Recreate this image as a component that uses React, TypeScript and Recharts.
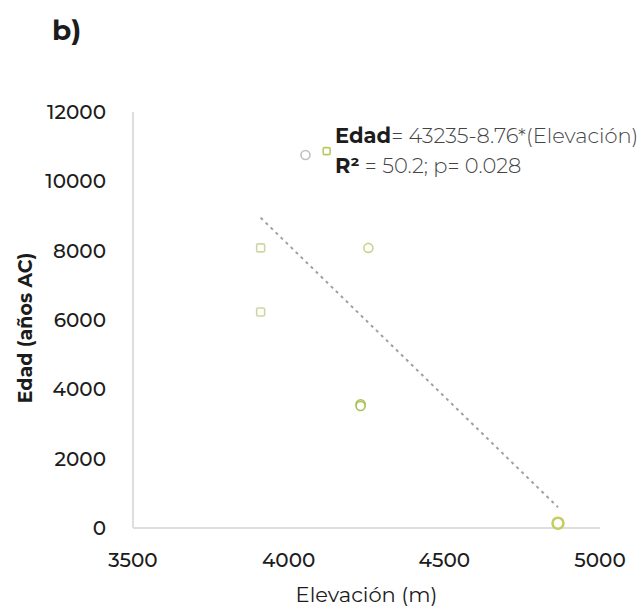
import { ScatterChart, Scatter, XAxis, YAxis, ZAxis } from 'recharts'

// Elevación (m) / Edad (años AC)
const squareElev = [3910, 3910]
const squareAge = [8080, 6230]
const greyElev = [4054]
const greyAge = [10760]
const smallGreenElev = [4122]
const smallGreenAge = [10870]
const circleElev = [4256]
const circleAge = [8080]
const doubleElev = [4231, 4231]
const doubleAge = [3570, 3520]
const lowElev = [4865]
const lowAge = [140]
const trendElev = [3910, 4865]
const trendAge = [8950, 600]

const xTicks = [3500, 4000, 4500, 5000]
const yTicks = [0, 2000, 4000, 6000, 8000, 10000, 12000]

const pts = (xs: number[], ys: number[]) => xs.map((x, i) => ({ x, y: ys[i] }))

const FONT = "Montserrat, 'DejaVu Sans', sans-serif"

const square = (color: string, s: number) => (p: any) => (
  <rect x={p.cx - s / 2} y={p.cy - s / 2} width={s} height={s} rx={1.5} fill="#fff" stroke={color} strokeWidth={1.6} />
)
const circle = (color: string, r: number, sw = 1.6) => (p: any) => (
  <circle cx={p.cx} cy={p.cy} r={r} fill="#fff" stroke={color} strokeWidth={sw} />
)

const YLabel = () => (
  <text
    x={25}
    y={328}
    transform="rotate(-90 25 328)"
    textAnchor="middle"
    dominantBaseline="central"
    fontFamily={FONT}
    fontSize={19}
    fontWeight={700}
    fill="#1c1c1c"
  >
    Edad (años AC)
  </text>
)

export default function App() {
  return (
    <div style={{ position: 'absolute', left: 0, top: 0, width: 644, height: 610, background: '#fff' }}>
      <ScatterChart width={644} height={610} margin={{ top: 112, right: 44, bottom: 0, left: 0 }}>
        <XAxis
          type="number"
          dataKey="x"
          domain={[3500, 5000]}
          ticks={xTicks}
          tickSize={0}
          tickMargin={25}
          axisLine={{ stroke: '#dedede', strokeWidth: 2 }}
          tick={{ fill: '#1c1c1c', fontSize: 20, fontFamily: FONT, fontWeight: 500 }}
          height={82}
          label={{ value: 'Elevación (m)', position: 'insideBottom', offset: 8, fill: '#1c1c1c', fontSize: 21, fontFamily: FONT }}
        />
        <YAxis
          type="number"
          dataKey="y"
          domain={[0, 12000]}
          ticks={yTicks}
          tickSize={0}
          tickMargin={27}
          width={133}
          axisLine={{ stroke: '#dedede', strokeWidth: 2 }}
          tick={{ fill: '#1c1c1c', fontSize: 20, fontFamily: FONT, fontWeight: 500 }}
          label={{ content: () => <YLabel /> }}
        />
        <ZAxis range={[60, 60]} />
        <Scatter
          data={pts(trendElev, trendAge)}
          line={{ stroke: '#a0a0a0', strokeWidth: 2, strokeDasharray: '3 4' }}
          shape={() => <g />}
          isAnimationActive={false}
        />
        <Scatter data={pts(squareElev, squareAge)} shape={square('#cfd6a2', 8)} isAnimationActive={false} />
        <Scatter data={pts(greyElev, greyAge)} shape={circle('#c0c0c0', 4.5)} isAnimationActive={false} />
        <Scatter data={pts(smallGreenElev, smallGreenAge)} shape={square('#bac85e', 7)} isAnimationActive={false} />
        <Scatter data={pts(circleElev, circleAge)} shape={circle('#cbd387', 4.5)} isAnimationActive={false} />
        <Scatter data={pts(doubleElev, doubleAge)} shape={circle('#abc053', 4.5)} isAnimationActive={false} />
        <Scatter data={pts(lowElev, lowAge)} shape={circle('#c3cd62', 5.5, 2.5)} isAnimationActive={false} />
      </ScatterChart>
      <svg width={644} height={610} style={{ position: 'absolute', left: 0, top: 0, pointerEvents: 'none' }}>
        <text x={52} y={40} fontFamily={FONT} fontSize={28} fontWeight={700} fill="#1c1c1c">b)</text>
        <text x={335} y={143} fontFamily={FONT} fontSize={21} fill="#444">
          <tspan fontWeight={700} fill="#1c1c1c">Edad</tspan>
          <tspan fontWeight={300}>= 43235-8.76*(Elevación)</tspan>
        </text>
        <text x={335} y={173} fontFamily={FONT} fontSize={21} fill="#444">
          <tspan fontWeight={700} fill="#1c1c1c">R²</tspan>
          <tspan fontWeight={300}> = 50.2; p= 0.028</tspan>
        </text>
      </svg>
    </div>
  )
}
